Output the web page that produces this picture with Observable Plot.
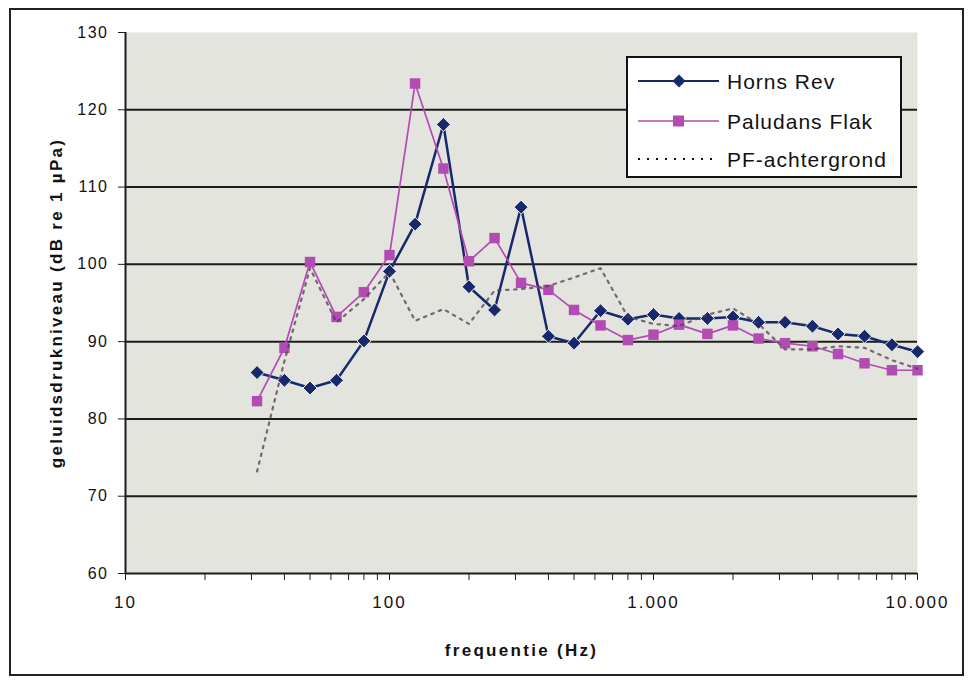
<!DOCTYPE html>
<html>
<head>
<meta charset="utf-8">
<script src="https://cdn.jsdelivr.net/npm/d3@7"></script>
<script src="https://cdn.jsdelivr.net/npm/@observablehq/plot@0.6"></script>
<style>
  body { margin: 0; background: #fff; }
  #wrap { position: relative; width: 976px; height: 682px; font-family: "Liberation Sans", Arial, sans-serif; }
  #border { position: absolute; left: 9px; top: 8px; width: 955px; height: 668px; border: 2px solid #222; box-sizing: border-box; pointer-events: none; }
  #chart { position: absolute; left: 0; top: 0; }
  #legend { position: absolute; left: 626px; top: 56px; width: 276px; height: 122px; background: #fff; border: 2px solid #111; box-sizing: border-box; }
  #legend svg { position: absolute; left: 0; top: 0; }
  [aria-label="y-axis tick label"] text { letter-spacing: 1.5px; }
  [aria-label="x-axis tick label"] text { letter-spacing: 2px; }
  [aria-label="x-axis label"] text, [aria-label="y-axis label"] text { letter-spacing: 2.3px; }
</style>
</head>
<body>
<div id="wrap">
  <div id="chart"></div>
  <div id="legend"></div>
  <div id="border"></div>
</div>
<script>
// Third-octave band centre frequencies (Hz)
const freqs = [31.5, 40, 50, 63, 80, 100, 125, 160, 200, 250, 315, 400, 500, 630, 800, 1000, 1250, 1600, 2000, 2500, 3150, 4000, 5000, 6300, 8000, 10000];
// Series values (dB re 1 µPa)
const hornsRev = [86, 85, 84, 85, 90.1, 99.1, 105.2, 118.1, 97.1, 94.1, 107.4, 90.7, 89.8, 94.0, 92.9, 93.5, 93.0, 93.0, 93.2, 92.5, 92.5, 92.0, 91.0, 90.7, 89.6, 88.7];
const paludansFlak = [82.3, 89.2, 100.3, 93.2, 96.4, 101.2, 123.4, 112.4, 100.4, 103.4, 97.6, 96.7, 94.1, 92.1, 90.2, 90.9, 92.2, 91.0, 92.1, 90.4, 89.8, 89.4, 88.4, 87.2, 86.3, 86.3];
const pfAchtergrond = [73.2, 87.5, 99.5, 92.5, 95.5, 99.0, 92.7, 94.2, 92.3, 96.6, 96.8, 97.2, 98.3, 99.5, 93.2, 92.3, 92.0, 93.5, 94.3, 92.3, 89.0, 89.0, 89.4, 89.2, 87.6, 86.5];
const seriesNames = ["Horns Rev", "Paludans Flak", "PF-achtergrond"];
// Axis ticks
const yTicks = [60, 70, 80, 90, 100, 110, 120, 130];
const yGrid = [70, 80, 90, 100, 110, 120];
const xMajor = [10, 100, 1000, 10000];
const xMinor = [20, 30, 40, 50, 60, 70, 80, 90, 200, 300, 400, 500, 600, 700, 800, 900, 2000, 3000, 4000, 5000, 6000, 7000, 8000, 9000];

const colors = {hr: "#17296b", pf: "#b24cb2", bg: "#4e3e52"};
const toRows = vals => freqs.map((f, i) => ({f, v: vals[i]}));
const hr = toRows(hornsRev), pf = toRows(paludansFlak), bg = toRows(pfAchtergrond);

const nl = d3.formatLocale({decimal: ",", thousands: ".", grouping: [3], currency: ["", ""]}).format(",");

const chart = Plot.plot({
  width: 976,
  height: 682,
  marginLeft: 125,
  marginRight: 59,
  marginTop: 32,
  marginBottom: 109,
  style: {fontFamily: "'Liberation Sans', Arial, sans-serif", background: "transparent", color: "#111", overflow: "visible"},
  x: {type: "log", domain: [10, 10000]},
  y: {domain: [60, 130]},
  marks: [
    Plot.frame({fill: "#e2e4dd", stroke: "none"}),
    Plot.gridY(yGrid, {stroke: "#1c1c1c", strokeOpacity: 1, strokeWidth: 2}),
    Plot.ruleY([60], {stroke: "#1c1c1c", strokeWidth: 2}),
    Plot.ruleX([10], {stroke: "#1c1c1c", strokeWidth: 2}),
    Plot.axisY(yTicks, {tickSize: 7, tickPadding: 10, fontSize: 16, stroke: "#1c1c1c",
      label: "geluidsdrukniveau (dB re 1 µPa)", labelAnchor: "center", labelArrow: "none", labelOffset: 76}),
    Plot.axisX(xMinor, {tickSize: 7, stroke: "#1c1c1c", tickFormat: () => "", label: null}),
    Plot.axisX(xMajor, {tickSize: 7, tickPadding: 15, fontSize: 17, stroke: "#1c1c1c", tickFormat: nl,
      label: "frequentie (Hz)", labelAnchor: "center", labelArrow: "none", labelOffset: 82}),
    // Horns Rev
    Plot.line(hr, {x: "f", y: "v", stroke: colors.hr, strokeWidth: 2.5}),
    Plot.dot(hr, {x: "f", y: "v", symbol: "diamond2", r: 6.3, fill: colors.hr, stroke: "#f4f4f4", strokeWidth: 1}),
    // Paludans Flak
    Plot.line(pf, {x: "f", y: "v", stroke: colors.pf, strokeWidth: 1.7}),
    Plot.dot(pf, {x: "f", y: "v", symbol: "square", r: 5.9, fill: colors.pf, stroke: "none"}),
    // PF-achtergrond
    Plot.line(bg, {x: "f", y: "v", stroke: colors.bg, strokeWidth: 2.2, strokeDasharray: "2.5,5.5", strokeOpacity: 0.75})
  ]
});
chart.querySelectorAll('[aria-label="x-axis label"] text, [aria-label="y-axis label"] text').forEach(t => {
  t.setAttribute("font-weight", "bold");
  t.setAttribute("font-size", "17");
});
document.getElementById("chart").appendChild(chart);

// Legend
const lg = d3.select("#legend").append("svg").attr("width", 276).attr("height", 122)
  .style("font-family", "'Liberation Sans', Arial, sans-serif");
const rowsY = [23, 63, 101];
seriesNames.forEach((name, i) => {
  const y = rowsY[i];
  const g = lg.append("g");
  if (i === 0) {
    g.append("line").attr("x1", 10).attr("x2", 91).attr("y1", y).attr("y2", y).attr("stroke", colors.hr).attr("stroke-width", 2);
    g.append("path").attr("d", d3.symbol(d3.symbolDiamond2, 107)()).attr("transform", `translate(51,${y})`).attr("fill", colors.hr);
  } else if (i === 1) {
    g.append("line").attr("x1", 10).attr("x2", 91).attr("y1", y).attr("y2", y).attr("stroke", colors.pf).attr("stroke-width", 1.5);
    g.append("rect").attr("x", 45).attr("y", y - 5.5).attr("width", 11).attr("height", 11).attr("fill", colors.pf);
  } else {
    g.append("line").attr("x1", 10).attr("x2", 88).attr("y1", y).attr("y2", y).attr("stroke", "#111").attr("stroke-width", 2).attr("stroke-dasharray", "2,7");
  }
  g.append("text").attr("x", 99).attr("y", y).attr("dy", "0.36em").attr("font-size", 21).attr("letter-spacing", "1px").attr("fill", "#111").text(name);
});
</script>
</body>
</html>
